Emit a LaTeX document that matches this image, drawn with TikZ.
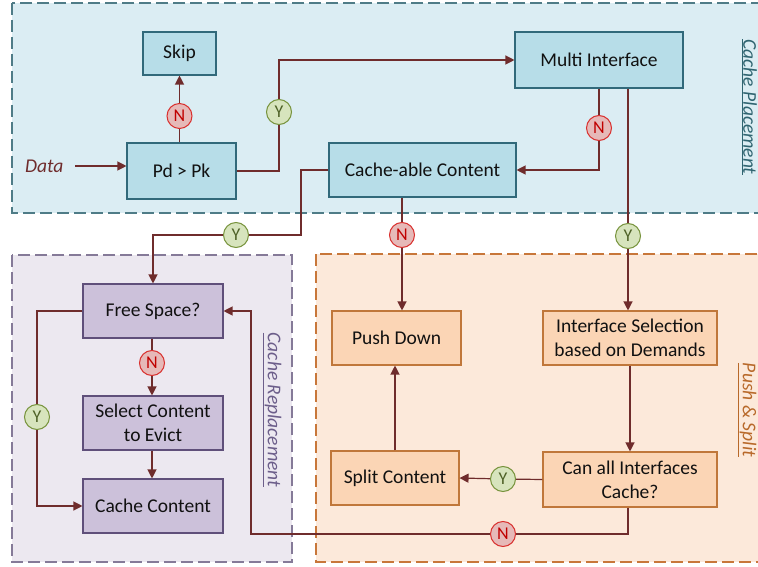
\documentclass[tikz,border=0pt]{standalone}
\usepackage{fontspec}
\setmainfont{Carlito}
\usetikzlibrary{arrows.meta}
\definecolor{regPfill}{HTML}{DBEDF3}
\definecolor{regPdraw}{HTML}{4F7C87}
\definecolor{regRfill}{HTML}{ECE8F0}
\definecolor{regRdraw}{HTML}{857A98}
\definecolor{regSfill}{HTML}{FCE9DA}
\definecolor{regSdraw}{HTML}{C8773A}
\definecolor{bluefill}{HTML}{B7DDE8}
\definecolor{bluedraw}{HTML}{31697A}
\definecolor{purfill}{HTML}{CCC1DA}
\definecolor{purdraw}{HTML}{5F4F7A}
\definecolor{orfill}{HTML}{FBD5B5}
\definecolor{ordraw}{HTML}{C0773A}
\definecolor{lnk}{HTML}{6F2C2C}
\definecolor{nfill}{HTML}{E6B9B8}
\definecolor{ndraw}{HTML}{D9302E}
\definecolor{ntext}{HTML}{C00000}
\definecolor{yfill}{HTML}{D7E4BD}
\definecolor{ydraw}{HTML}{77933C}
\definecolor{ytext}{HTML}{4F6228}
\definecolor{lblP}{HTML}{2F6470}
\definecolor{lblR}{HTML}{6C5E8A}
\definecolor{lblS}{HTML}{B8692A}
\definecolor{txt}{HTML}{111111}
\begin{document}
\begin{tikzpicture}[x=1pt,y=-1pt,
  region/.style={dash pattern=on 12pt off 5pt, line width=1.1pt},
  box/.style={rectangle, inner sep=0pt, line width=1.1pt, align=center, text=txt,
    font=\fontsize{19.5}{24}\selectfont},
  bluebox/.style={box, fill=bluefill, draw=bluedraw},
  purbox/.style={box, fill=purfill, draw=purdraw},
  orbox/.style={box, fill=orfill, draw=ordraw},
  ncirc/.style={circle, minimum size=25pt, inner sep=0pt, fill=nfill, draw=ndraw,
    line width=1pt, text=ntext, font=\fontsize{18}{19}\selectfont},
  ycirc/.style={circle, minimum size=25pt, inner sep=0pt, fill=yfill, draw=ydraw,
    line width=1pt, text=ytext, font=\fontsize{18}{19}\selectfont},
  ln/.style={draw=lnk, line width=1.2pt},
  arr/.style={ln, -{Triangle[length=9pt,width=9pt]}},
  vlabel/.style={rotate=-90, font=\fontsize{19.5}{23}\selectfont\itshape}
]
\useasboundingbox (0,0) rectangle (758,567);
% regions
\filldraw[region, fill=regPfill, draw=regPdraw] (12,3) rectangle (764,213);
\filldraw[region, fill=regRfill, draw=regRdraw] (12,255) rectangle (292,562);
\filldraw[region, fill=regSfill, draw=regSdraw] (316,254) rectangle (764,562);
% region labels
\node[vlabel, text=lblP] (lp) at (749,107) {\underline{Cache Placement}};
\node[vlabel, text=lblR] (lr) at (272,410) {\underline{Cache Replacement}};
\node[vlabel, text=lblS] (ls) at (747,410) {\underline{Push \& Split}};
% boxes
\node[bluebox, minimum width=73pt, minimum height=43pt] (skip) at (179.5,53.5) {Skip};
\node[bluebox, minimum width=109pt, minimum height=56pt] (pd) at (181.5,171) {Pd > Pk};
\node[bluebox, minimum width=168pt, minimum height=56pt] (mi) at (599,60) {Multi Interface};
\node[bluebox, minimum width=187pt, minimum height=54pt] (cc) at (422.5,170) {Cache-able Content};
\node[purbox, minimum width=140pt, minimum height=54pt] (fs) at (153,311) {Free Space?};
\node[purbox, minimum width=140pt, minimum height=54pt] (sel) at (153,423) {Select Content\\to Evict};
\node[purbox, minimum width=140pt, minimum height=54pt] (cc2) at (153,506) {Cache Content};
\node[orbox, minimum width=129pt, minimum height=54pt] (push) at (396.5,338) {Push Down};
\node[orbox, minimum width=174pt, minimum height=54pt] (isel) at (630,338) {Interface Selection\\based on Demands};
\node[orbox, minimum width=128pt, minimum height=54pt] (split) at (395,478) {Split Content};
\node[orbox, minimum width=174pt, minimum height=55pt] (can) at (630,479.5) {Can all Interfaces\\Cache?};
% data label
\node[font=\fontsize{19.5}{23}\selectfont\itshape, text=lnk, anchor=east] (data) at (67,166) {Data};
% decision circles
\node[ncirc] (n1) at (179.5,116) {N};
\node[ycirc] (y1) at (279,112) {Y};
\node[ncirc] (n2) at (599,128) {N};
\node[ycirc] (y2) at (628,236) {Y};
\node[ycirc] (y3) at (236,235) {Y};
\node[ncirc] (n3) at (402,235) {N};
\node[ncirc] (n4) at (152,363) {N};
\node[ycirc] (y4) at (37,417) {Y};
\node[ycirc] (y5) at (503,479) {Y};
\node[ncirc] (n5) at (503,534) {N};
\coordinate (c1) at (301,235);
\coordinate (c2) at (37,311);
\coordinate (c3) at (628,534);
\coordinate (c4) at (251,534);
\coordinate (c5) at (251,311);
% connectors
\draw[arr, shorten <=8pt] (data.east) -- (data.east -| pd.west);
\draw[ln] (n1 |- pd.north) -- (n1);
\draw[arr] (n1) -- (skip);
\draw[ln] (pd.east) -| (y1);
\draw[arr] (y1) |- (mi.west);
\draw[ln] (n2 |- mi.south) -- (n2);
\draw[arr] (n2) |- (cc.east);
\draw[ln] (y2 |- mi.south) -- (y2);
\draw[arr] (y2) -- (y2 |- isel.north);
\draw[ln] (cc.west) -| (c1) -- (y3);
\draw[arr] (y3) -| (fs.north);
\draw[ln] (n3 |- cc.south) -- (n3);
\draw[arr] (n3) -- (n3 |- push.north);
\draw[ln] (fs.south -| n4) -- (n4);
\draw[arr] (n4) -- (n4 |- sel.north);
\draw[arr] (sel.south -| n4) -- (n4 |- cc2.north);
\draw[ln] (fs.west) -- (c2) -- (y4);
\draw[arr] (y4) |- (cc2.west);
\draw[arr] (isel) -- (can);
\draw[ln] (can.west) -- (y5);
\draw[arr] (y5) -- (split.east);
\draw[arr] (split.north) -- (push.south -| split.north);
\draw[ln] (c3 |- can.south) -- (c3) -- (n5);
\draw[arr] (n5) -- (c4) -- (c5) -- (fs.east);
\end{tikzpicture}
\end{document}
